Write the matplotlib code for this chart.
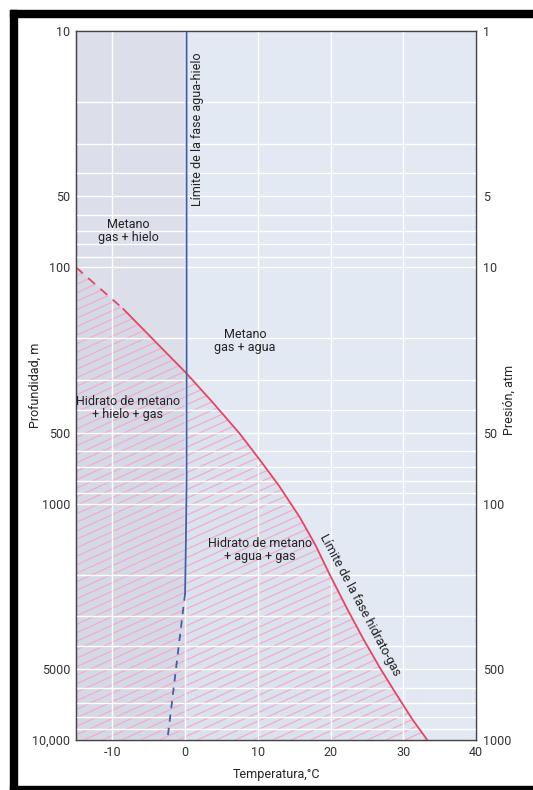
import numpy as np
import matplotlib.pyplot as plt
from matplotlib.patches import Polygon
from matplotlib.ticker import FixedLocator, FixedFormatter, LogLocator, NullFormatter

plt.rcParams['font.family'] = ['Roboto', 'DejaVu Sans']
plt.rcParams['axes.unicode_minus'] = False

# hydrate-gas phase boundary (temperature C, depth m)
hyd_dash_t = [-15.0, -8.5]
hyd_dash_d = [100, 150]
hyd_t = [-8.5, -4.8, 0.1, 3.8, 7.5, 10.3, 13.0, 15.8, 17.9, 19.9, 22.3, 24.5, 26.8, 29.1, 31.3, 33.3]
hyd_d = [150, 196, 279, 373, 505, 654, 847, 1146, 1492, 2000, 2790, 3735, 4955, 6445, 8220, 10000]

# water-ice phase boundary
ice_t = [0.2, 0.2, 0.1, 0.0]
ice_d = [10, 800, 1500, 2400]
ice_dash_t = [0.0, -2.4]
ice_dash_d = [2400, 9800]

depth_ticks = [10, 50, 100, 500, 1000, 5000, 10000]
depth_labels = ['10', '50', '100', '500', '1000', '5000', '10,000']
press_ticks = [1, 5, 10, 50, 100, 500, 1000]
press_labels = ['1', '5', '10', '50', '100', '500', '1000']
temp_ticks = [-10, 0, 10, 20, 30, 40]

fig = plt.figure(figsize=(5.33, 7.90), dpi=100)
fig.patch.set_facecolor('white')

# black frame (left, top, bottom)
fig.add_artist(plt.Rectangle((10 / 533, 0.0), 7 / 533, 1 - 10 / 790, transform=fig.transFigure,
                             color='black', zorder=10))
fig.add_artist(plt.Rectangle((10 / 533, 1 - 17 / 790), 1.0, 7 / 790, transform=fig.transFigure,
                             color='black', zorder=10))
fig.add_artist(plt.Rectangle((10 / 533, 0.0), 1.0, 4 / 790, transform=fig.transFigure,
                             color='black', zorder=10))

ax = fig.add_axes([76 / 533, 50 / 790, 400 / 533, 709 / 790])
ax.set_yscale('log')
ax.set_xlim(-15, 40)
ax.set_ylim(10000, 10)
ax.set_facecolor('#e2e9f3')
ax.axvspan(-15, 0, color='#dcdfea', zorder=0)

# hydrate stability region
poly_pts = list(zip(hyd_dash_t + hyd_t, hyd_dash_d + hyd_d)) + [(-15, 10000)]
region = Polygon(poly_pts, closed=True, facecolor=(0.55, 0.6, 0.78, 0.08), edgecolor='none', zorder=1)
ax.add_patch(region)
slope = 0.45 * 400 / 709
step = 8.5 / 709
for c in np.arange(-1.0, 1.2, step):
    ln, = ax.plot([0, 1], [c, c + slope], transform=ax.transAxes, color='#f2adc4', lw=0.9, zorder=1.2)
    ln.set_clip_path(region)

ax.set_axisbelow(False)
ax.grid(True, which='both', color='white', lw=1.0, zorder=2)
ax.xaxis.set_major_locator(FixedLocator(temp_ticks))
ax.yaxis.set_major_locator(FixedLocator(depth_ticks))
ax.yaxis.set_major_formatter(FixedFormatter(depth_labels))
ax.yaxis.set_minor_locator(LogLocator(base=10, subs=np.arange(2, 10)))
ax.yaxis.set_minor_formatter(NullFormatter())
ax.tick_params(which='both', length=0, labelsize=9, colors='#333333', pad=4)
for s in ax.spines.values():
    s.set_color('#444444')
    s.set_linewidth(1.0)

ax.plot(hyd_dash_t, hyd_dash_d, color='#e8455f', lw=1.3, ls=(0, (5, 4)), zorder=3)
ax.plot(hyd_t, hyd_d, color='#e8455f', lw=1.3, zorder=3)
ax.plot(ice_t, ice_d, color='#3f5fa8', lw=1.3, zorder=3)
ax.plot(ice_dash_t, ice_dash_d, color='#3f5fa8', lw=1.3, ls=(0, (4, 3.5)), zorder=3)

txt = dict(fontsize=9, color='#222222', ha='center', va='center', linespacing=1.0, zorder=4)
ax.text(-7.85, 70, 'Metano\ngas + hielo', **txt)
ax.text(8.25, 204, 'Metano\ngas + agua', **txt)
ax.text(-7.85, 392, 'Hidrato de metano\n+ hielo + gas', **txt)
ax.text(10.3, 1566, 'Hidrato de metano\n+ agua + gas', **txt)
ax.text(1.7, 26, 'Límite de la fase agua-hielo', rotation=90, **txt)
ax.text(24.0, 2680, 'Límite de la fase hidrato-gas', rotation=-62, rotation_mode='anchor', **txt)

ax.set_xlabel('Temperatura,°C', fontsize=9, color='#222222')
ax.xaxis.set_label_coords(0.5, -0.04)
ax.set_ylabel('Profundidad, m', fontsize=9, color='#222222')
ax.yaxis.set_label_coords(-0.085, 0.5)

ax2 = ax.twinx()
ax2.set_yscale('log')
ax2.set_ylim(1000, 1)
ax2.yaxis.set_major_locator(FixedLocator(press_ticks))
ax2.yaxis.set_major_formatter(FixedFormatter(press_labels))
ax2.yaxis.set_minor_formatter(NullFormatter())
ax2.tick_params(which='both', length=0, labelsize=9, colors='#333333', pad=5)
ax2.set_ylabel('Presión, atm', fontsize=9, color='#222222')
ax2.yaxis.set_label_coords(1.068, 0.48)
for s in ax2.spines.values():
    s.set_color('#444444')

fig.savefig('out.png', dpi=100)
